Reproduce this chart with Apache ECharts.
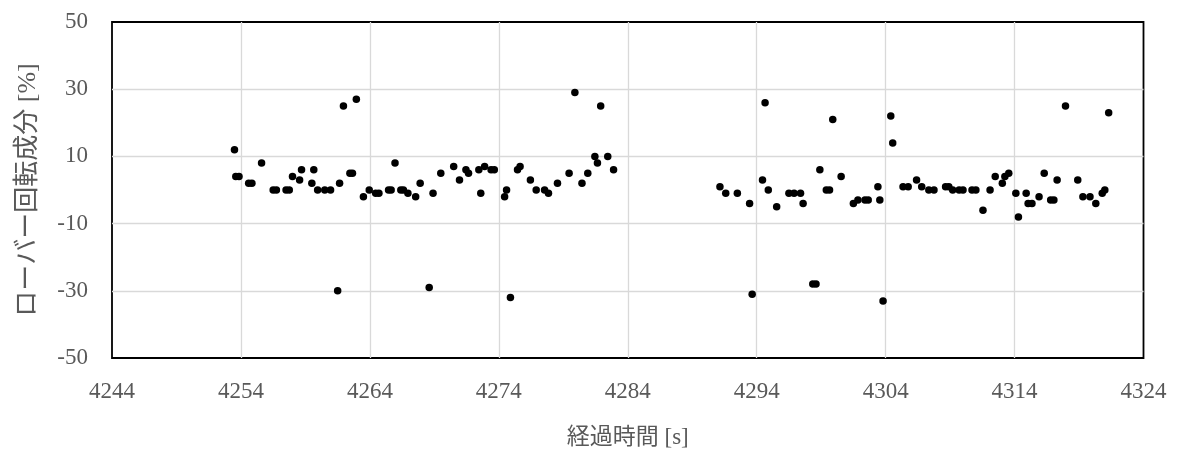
<!DOCTYPE html>
<html>
<head>
<meta charset="utf-8">
<script src="https://cdn.jsdelivr.net/npm/echarts@6/dist/echarts.min.js"></script>
<style>
  html, body { margin: 0; padding: 0; background: #fff; }
  #chart { width: 1179px; height: 454px; }
</style>
</head>
<body>
<div id="chart"></div>
<script>
// Rover rotation component [%] against elapsed time [s]

// first run of samples
const run1Time = [
  4253.5, 4253.6, 4253.85, 4254.6, 4254.85, 4255.6, 4256.5, 4256.75, 4257.5, 4257.75,
  4258.0, 4258.55, 4258.7, 4259.5, 4259.65, 4259.95, 4260.5, 4260.95, 4261.5, 4261.65,
  4261.95, 4262.45, 4262.65, 4262.95, 4263.5, 4263.95, 4264.45, 4264.7, 4265.45, 4265.65,
  4265.95, 4266.4, 4266.6, 4266.95, 4267.55, 4267.9, 4268.6, 4268.9, 4269.5, 4270.5,
  4270.95, 4271.45, 4271.65, 4272.45, 4272.6, 4272.9, 4273.4, 4273.65, 4274.45, 4274.6,
  4274.9, 4275.45, 4275.65, 4276.45, 4276.9, 4277.55, 4277.85, 4278.55, 4279.45, 4279.9,
  4280.45, 4280.9, 4281.45, 4281.65, 4281.9, 4282.45, 4282.9
];
const run1Value = [
  12, 4, 4, 2, 2, 8, 0, 0, 0, 0,
  4, 3, 6, 2, 6, 0, 0, 0, -30, 2,
  25, 5, 5, 27, -2, 0, -1, -1, 0, 0,
  8, 0, 0, -1, -2, 2, -29, -1, 5, 7,
  3, 6, 5, 6, -1, 7, 6, 6, -2, 0,
  -32, 6, 7, 3, 0, 0, -1, 2, 5, 29,
  2, 5, 10, 8, 25, 10, 6
];

// second run of samples
const run2Time = [
  4291.15, 4291.6, 4292.5, 4293.45, 4293.65, 4294.45, 4294.65, 4294.9, 4295.55, 4296.5,
  4296.9, 4297.4, 4297.6, 4298.35, 4298.6, 4298.9, 4299.4, 4299.65, 4299.9, 4300.55,
  4301.5, 4301.85, 4302.4, 4302.65, 4303.4, 4303.55, 4303.8, 4304.4, 4304.55, 4305.35,
  4305.75, 4306.4, 4306.8, 4307.35, 4307.75, 4308.65, 4308.9, 4309.2, 4309.7, 4310.0,
  4310.7, 4311.0, 4311.55, 4312.1, 4312.5, 4313.05, 4313.25, 4313.55, 4314.1, 4314.3,
  4314.9, 4315.05, 4315.35, 4315.9, 4316.3, 4316.8, 4317.05, 4317.3, 4317.95, 4318.9,
  4319.3, 4319.85, 4320.3, 4320.8, 4321.0, 4321.3
];
const run2Value = [
  1, -1, -1, -4, -31, 3, 26, 0, -5, -1,
  -1, -1, -4, -28, -28, 6, 0, 0, 21, 4,
  -4, -3, -3, -3, 1, -3, -33, 22, 14, 1,
  1, 3, 1, 0, 0, 1, 1, 0, 0, 0,
  0, 0, -6, 0, 4, 2, 4, 5, -1, -8,
  -1, -4, -4, -2, 5, -3, -3, 3, 25, 3,
  -2, -2, -4, -1, 0, 23
];

// axis ranges and titles
const timeRange = { min: 4244, max: 4324, step: 10 };
const valueRange = { min: -50, max: 50, step: 20 };
const xTitle = '経過時間 [s]';
const yTitle = 'ローバー回転成分 [%]';

const points = run1Time.map((t, i) => [t, run1Value[i]])
  .concat(run2Time.map((t, i) => [t, run2Value[i]]));

const labelFont = '"Liberation Serif", "Noto Sans CJK JP", serif';
const textGrey = '#595959';
const gridGrey = '#d9d9d9';

const chart = echarts.init(document.getElementById('chart'), null, { renderer: 'canvas' });
chart.setOption({
  animation: false,
  backgroundColor: '#ffffff',
  grid: {
    left: 112, right: 35.5, top: 22, bottom: 93.5,
    show: true, borderColor: '#000000', borderWidth: 1.8, backgroundColor: 'transparent'
  },
  xAxis: {
    type: 'value',
    min: timeRange.min, max: timeRange.max, interval: timeRange.step,
    axisLine: { show: false },
    axisTick: { show: false },
    splitLine: {
      show: true, showMinLine: false, showMaxLine: false,
      lineStyle: { color: gridGrey, width: 1.3 }
    },
    axisLabel: {
      color: textGrey, fontFamily: labelFont, fontSize: 23, margin: 22,
      formatter: v => String(v)
    },
    name: xTitle,
    nameLocation: 'middle',
    nameGap: 68,
    nameTextStyle: { color: textGrey, fontFamily: labelFont, fontSize: 23 }
  },
  yAxis: {
    type: 'value',
    min: valueRange.min, max: valueRange.max, interval: valueRange.step,
    axisLine: { show: false },
    axisTick: { show: false },
    splitLine: {
      show: true, showMinLine: false, showMaxLine: false,
      lineStyle: { color: gridGrey, width: 1.3 }
    },
    axisLabel: {
      color: textGrey, fontFamily: labelFont, fontSize: 23, margin: 24,
      formatter: v => String(v)
    },
    name: yTitle,
    nameLocation: 'middle',
    nameRotate: 90,
    nameGap: 71,
    nameTextStyle: { color: textGrey, fontFamily: labelFont, fontSize: 26 }
  },
  series: [{
    type: 'scatter',
    data: points,
    symbol: 'circle',
    symbolSize: 7.5,
    itemStyle: { color: '#000000', opacity: 1 }
  }]
});
</script>
</body>
</html>
